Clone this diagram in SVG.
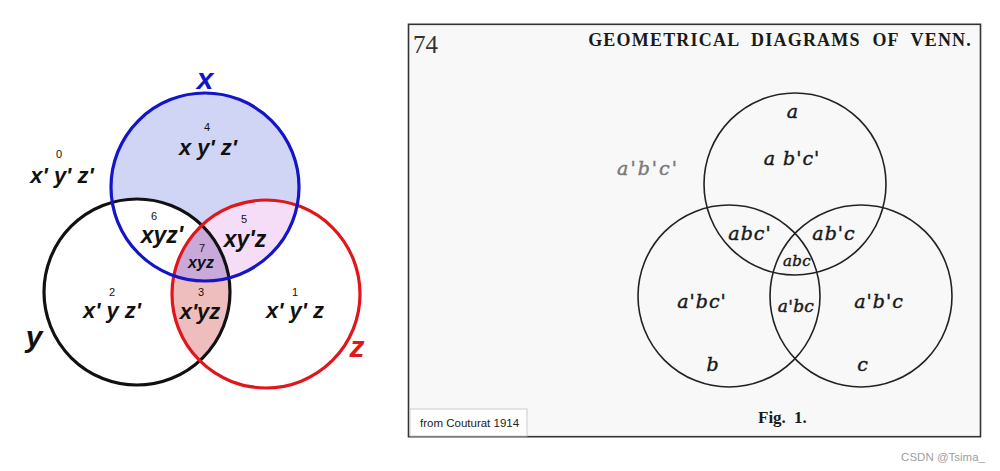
<svg xmlns="http://www.w3.org/2000/svg" width="1000" height="471" viewBox="0 0 1000 471">
<style>
.lbl{font-family:"Liberation Sans",Arial,sans-serif;font-weight:bold;font-style:italic;fill:#111;text-anchor:middle}
.num{font-family:"Liberation Sans",Arial,sans-serif;font-size:11px;fill:#111;text-anchor:middle}
.set{font-family:"Liberation Sans",Arial,sans-serif;font-weight:bold;font-style:italic;font-size:30px;text-anchor:middle}
.old{font-family:"DejaVu Serif","Liberation Serif",serif;font-style:italic;font-size:19px;fill:#1a1a1a;stroke:#1a1a1a;stroke-width:0.45;text-anchor:middle;letter-spacing:1px}
.ring{fill:none;stroke:#222;stroke-width:1.6}
</style>
<defs>
<clipPath id="cx"><circle cx="205" cy="187" r="94"/></clipPath>
<clipPath id="cy"><circle cx="137" cy="292" r="93"/></clipPath>
</defs>
<rect x="0" y="0" width="1000" height="471" fill="#ffffff"/>

<g id="modern-venn">
  <g id="fills">
    <circle cx="205" cy="187" r="94" fill="#d1d5f5"/>
    <circle cx="137" cy="292" r="93" fill="#ffffff" clip-path="url(#cx)"/>
    <circle cx="266" cy="294" r="94" fill="#f5ddf8" clip-path="url(#cx)"/>
    <circle cx="266" cy="294" r="94" fill="#eebebe" clip-path="url(#cy)"/>
    <g clip-path="url(#cx)"><circle cx="266" cy="294" r="94" fill="#c8a9d9" clip-path="url(#cy)"/></g>
  </g>
  <g id="set-y"><circle cx="137" cy="292" r="93" fill="none" stroke="#111" stroke-width="3.2"/><text class="set" x="34" y="347" fill="#111">y</text></g>
  <g id="set-z"><circle cx="266" cy="294" r="94" fill="none" stroke="#e0161b" stroke-width="3.2"/><text class="set" x="357" y="357" fill="#e0161b">z</text></g>
  <g id="set-x"><circle cx="205" cy="187" r="94" fill="none" stroke="#1414c8" stroke-width="3.2"/><text class="set" x="205" y="89" fill="#1414c8">x</text></g>
  <g id="region-0"><text class="num" x="59" y="158">0</text><text class="lbl" x="62" y="183" font-size="22">x' y' z'</text></g>
  <g id="region-4"><text class="num" x="207" y="131">4</text><text class="lbl" x="208" y="155" font-size="22">x y' z'</text></g>
  <g id="region-6"><text class="num" x="154" y="220">6</text><text class="lbl" x="162" y="243" font-size="23">xyz'</text></g>
  <g id="region-5"><text class="num" x="244" y="223">5</text><text class="lbl" x="245" y="247" font-size="23">xy'z</text></g>
  <g id="region-7"><text class="num" x="202" y="252">7</text><text class="lbl" x="201" y="268" font-size="16">xyz</text></g>
  <g id="region-2"><text class="num" x="112" y="296">2</text><text class="lbl" x="112" y="318" font-size="22">x' y z'</text></g>
  <g id="region-3"><text class="num" x="201" y="296">3</text><text class="lbl" x="200" y="319" font-size="22">x'yz</text></g>
  <g id="region-1"><text class="num" x="295" y="296">1</text><text class="lbl" x="295" y="318" font-size="22">x' y' z</text></g>
</g>

<g id="couturat-page">
  <rect x="408.5" y="24.3" width="572" height="412.4" fill="#f8f8f8" stroke="#333" stroke-width="1.6"/>
  <text x="413" y="53" font-family="Liberation Serif,serif" font-size="25" fill="#333">74</text>
  <text x="972" y="46" text-anchor="end" font-family="Liberation Serif,serif" font-weight="bold" font-size="18" fill="#1a1a1a" letter-spacing="1.2" word-spacing="6">GEOMETRICAL DIAGRAMS OF VENN.</text>
  <g id="circle-a"><circle class="ring" cx="795" cy="184" r="91"/><text class="old" x="793" y="118">a</text></g>
  <g id="circle-b"><circle class="ring" cx="729" cy="296" r="91"/><text class="old" x="713" y="371">b</text></g>
  <g id="circle-c"><circle class="ring" cx="861" cy="296" r="91"/><text class="old" x="863" y="371">c</text></g>
  <g id="label-a1b1c1"><text class="old" x="648" y="175" style="fill:#7a7a7a;stroke:#7a7a7a;letter-spacing:2px">a'b'c'</text></g>
  <g id="label-ab1c1"><text class="old" x="792" y="165">a b'c'</text></g>
  <g id="label-abc1"><text class="old" x="750" y="240">abc'</text></g>
  <g id="label-ab1c"><text class="old" x="834" y="240">ab'c</text></g>
  <g id="label-abc"><text class="old" x="797" y="266" style="font-size:15px;letter-spacing:0.3px">abc</text></g>
  <g id="label-a1bc1"><text class="old" x="702" y="308">a'bc'</text></g>
  <g id="label-a1bc"><text class="old" x="796" y="312" style="font-size:17px;letter-spacing:0.3px">a'bc</text></g>
  <g id="label-a1b1c"><text class="old" x="879" y="308">a'b'c</text></g>
  <text x="758" y="423" font-family="Liberation Serif,serif" font-weight="bold" font-size="17" fill="#1a1a1a" word-spacing="4">Fig. 1.</text>
  <g id="credit"><rect x="410" y="409" width="117" height="27" fill="#ffffff" stroke="#cccccc" stroke-width="1"/><text x="420" y="427" font-family="Liberation Sans,Arial,sans-serif" font-size="11.5" fill="#222">from Couturat 1914</text></g>
</g>
<g id="connectors"/>
<text x="985" y="461" text-anchor="end" font-family="Liberation Sans,Arial,sans-serif" font-size="11.5" fill="#a0a0a0">CSDN @Tsima_</text>
</svg>
